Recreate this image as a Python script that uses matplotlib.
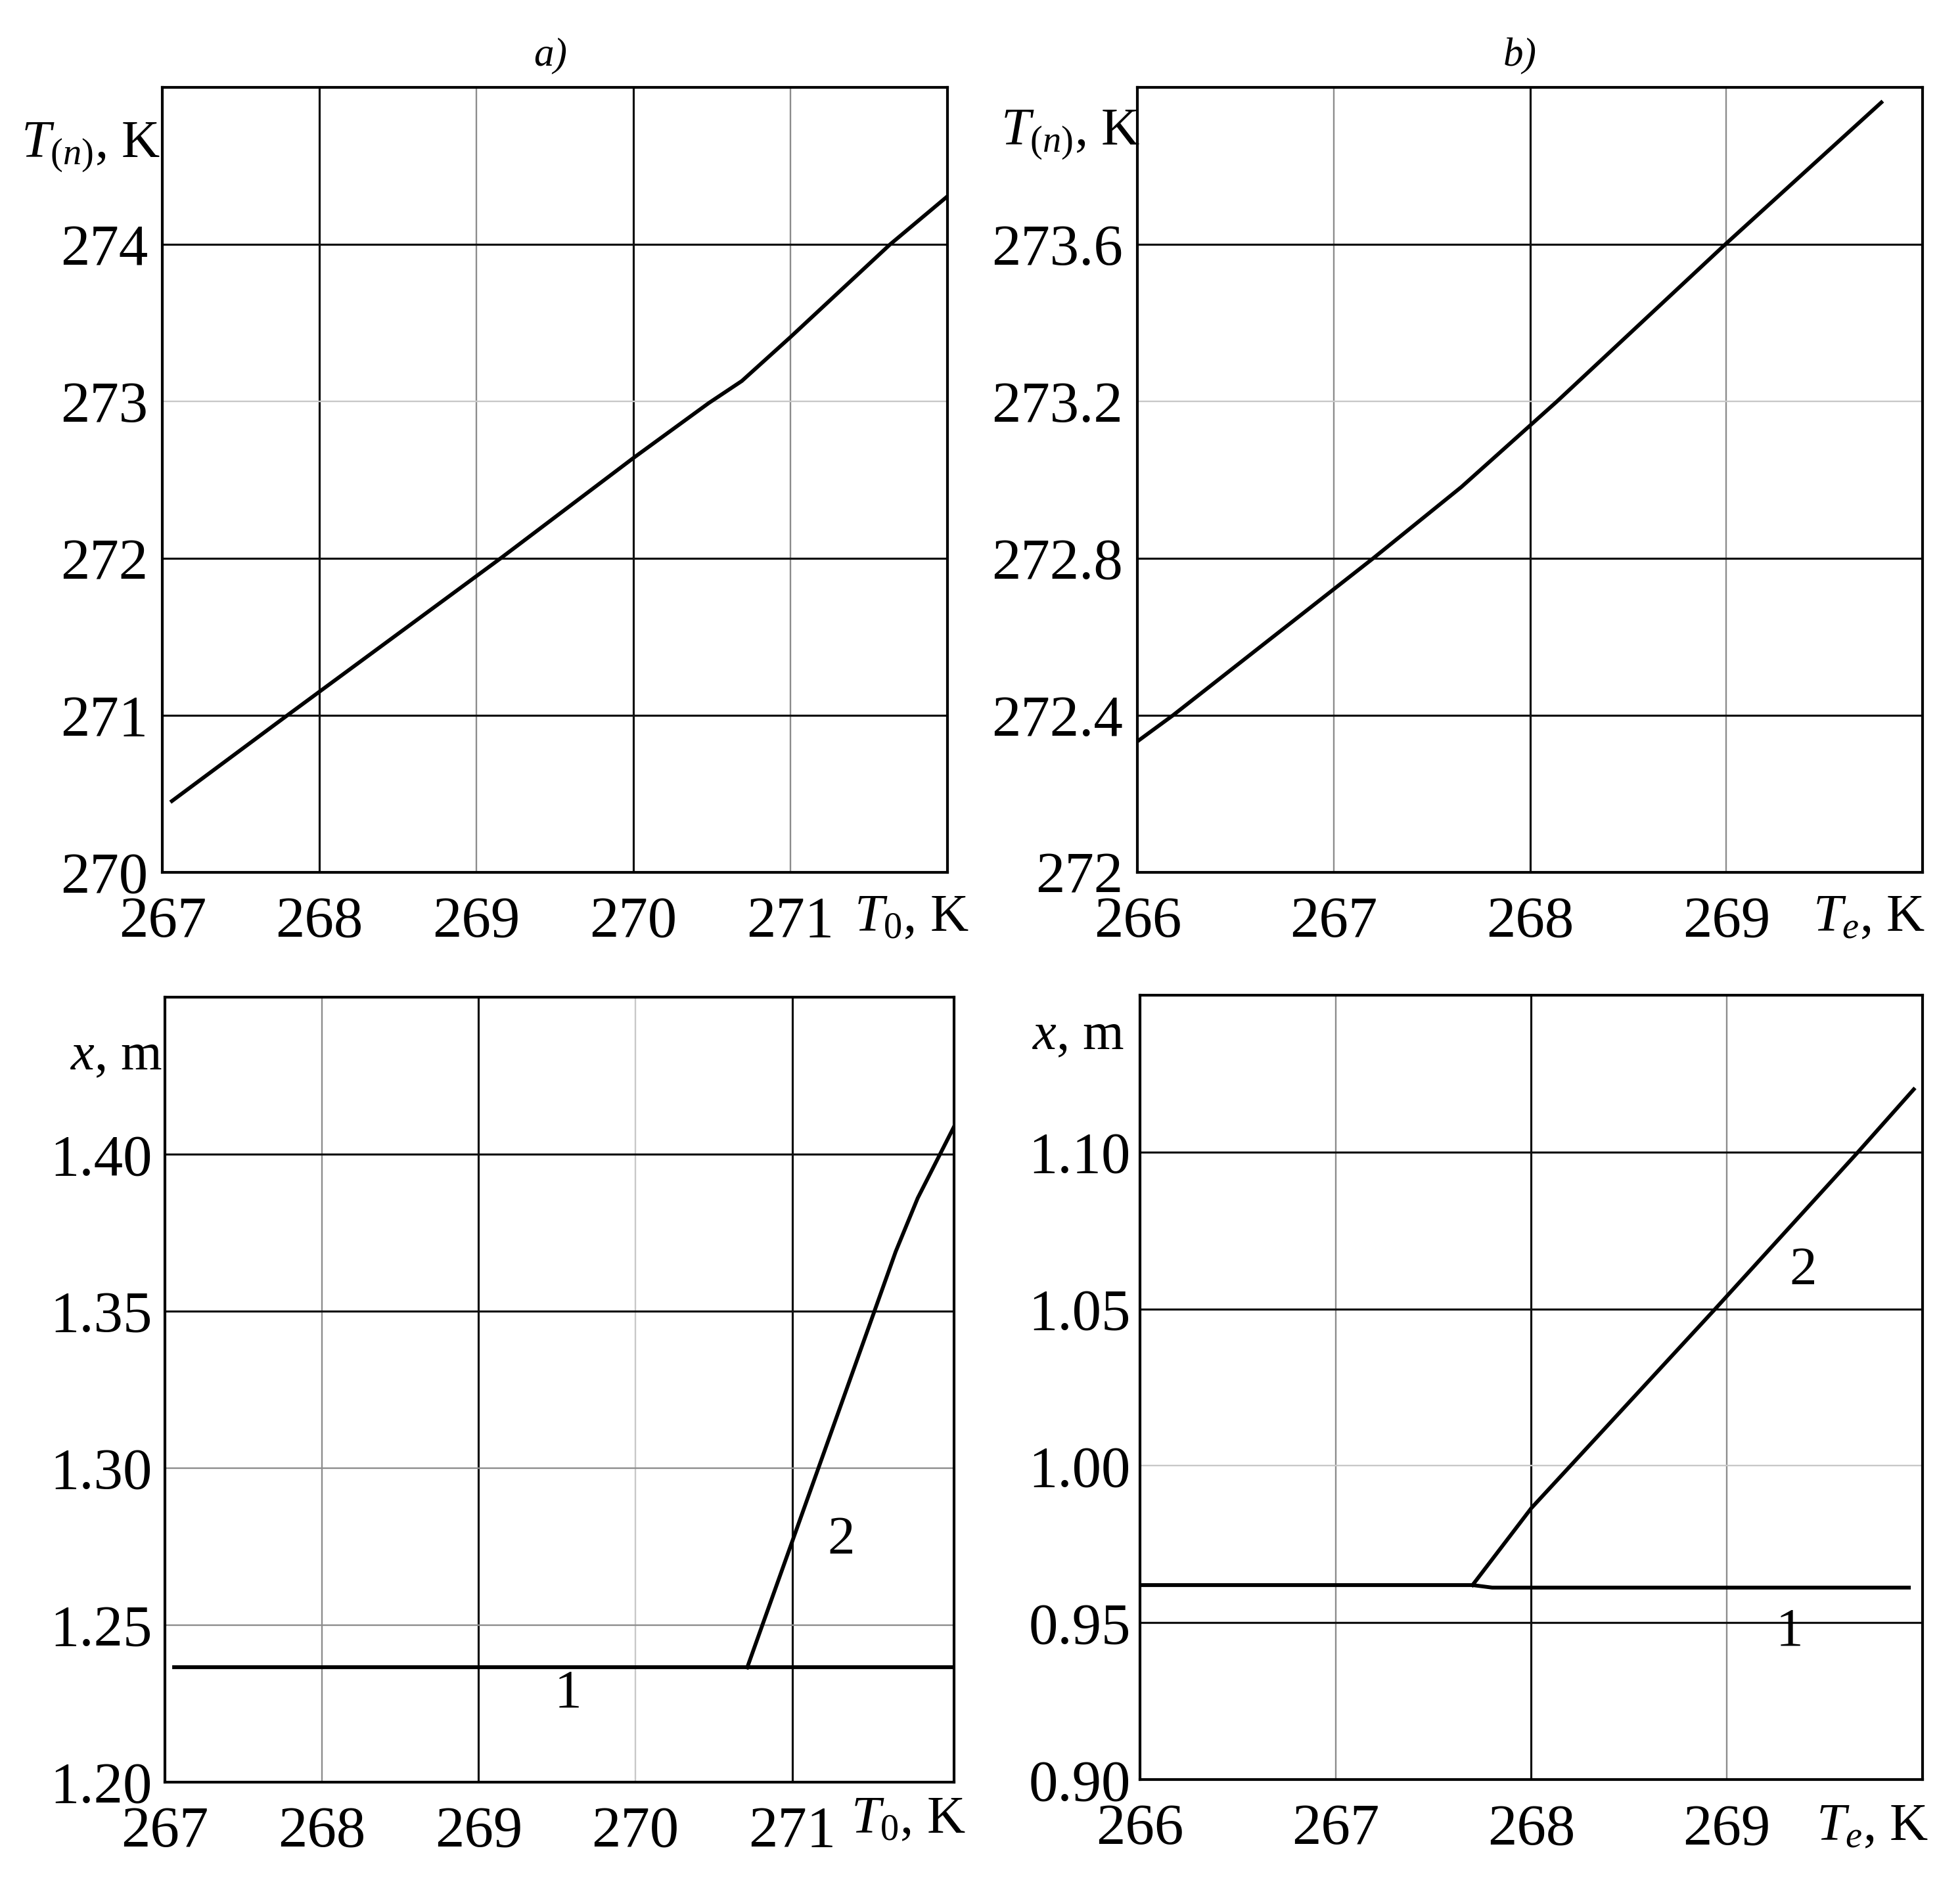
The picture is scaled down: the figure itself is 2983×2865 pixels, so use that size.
import matplotlib
matplotlib.use("Agg")
from matplotlib import pyplot as plt

plt.rcParams['font.family'] = ['Liberation Serif', 'DejaVu Serif']
plt.rcParams['mathtext.fontset'] = 'custom'
plt.rcParams['mathtext.rm'] = 'Liberation Serif'
plt.rcParams['mathtext.it'] = 'Liberation Serif:italic'

# panel a) top: T(n) vs T0
a_top_x = [267.06, 267.795, 269.153, 270.0, 270.48, 270.69, 271.0, 271.634, 272.0]
a_top_y = [270.454, 271.0, 272.0, 272.64, 272.99, 273.13, 273.41, 274.0, 274.307]
# panel b) top: T(n) vs Te
b_top_x = [266.0, 266.18, 267.2, 267.65, 268.137, 268.994, 269.79]
b_top_y = [272.334, 272.4, 272.8, 272.982, 273.2, 273.6, 273.962]
# panel a) bottom: x vs T0
a_bot_x1 = [267.06, 272.03]
a_bot_y1 = [1.2365, 1.2365]
a_bot_x2 = [270.713, 271.66, 271.8, 272.03]
a_bot_y2 = [1.2365, 1.369, 1.386, 1.4086]
# panel b) bottom: x vs Te
b_bot_x1 = [266.0, 267.70, 267.80, 269.93]
b_bot_y1 = [0.962, 0.962, 0.9612, 0.9612]
b_bot_x2 = [267.70, 268.0, 268.2, 268.94, 269.67, 269.955]
b_bot_y2 = [0.962, 0.9865, 1.0, 1.05, 1.10, 1.120]

a_xticks = [267, 268, 269, 270, 271]
b_xticks = [266, 267, 268, 269]
a_top_yticks = [270, 271, 272, 273, 274]
b_top_yticks = [272.0, 272.4, 272.8, 273.2, 273.6]
a_bot_yticks = [1.20, 1.25, 1.30, 1.35, 1.40]
b_bot_yticks = [0.90, 0.95, 1.00, 1.05, 1.10]

W, H = 2983, 2865
fig = plt.figure(figsize=(W / 200, H / 200), dpi=200)

BLK = ('#111111', 1.15)
GRY = ('#8c8c8c', 0.85)
LGT = ('#c8c8c8', 0.85)
LW = 2.1


def setup(ax, xlim, ylim, xt, yt, ylabels, vgrid, hgrid, pad_y):
    ax.set_xlim(*xlim)
    ax.set_ylim(*ylim)
    ax.set_xticks(xt)
    ax.set_yticks(yt)
    ax.set_xticklabels([str(v) for v in xt])
    ax.set_yticklabels(ylabels)
    ax.tick_params(length=0, labelsize=32, colors='black')
    ax.tick_params(axis='x', pad=13)
    ax.tick_params(axis='y', pad=pad_y)
    for v, st in zip(xt[1:], vgrid):
        ax.axvline(v, color=st[0], lw=st[1], zorder=1)
    for v, st in zip(yt[1:], hgrid):
        ax.axhline(v, color=st[0], lw=st[1], zorder=1)
    for s in ax.spines.values():
        s.set_linewidth(1.5)
        s.set_color('black')


# top-left
ax1 = fig.add_axes([0.0829, 0.5365, 0.4005, 0.417])
setup(ax1, (267, 272), (270, 275), a_xticks, a_top_yticks,
      [str(v) for v in a_top_yticks],
      [BLK, GRY, BLK, GRY], [BLK, BLK, LGT, BLK], 8)
ax1.plot(a_top_x, a_top_y, color='black', lw=LW, zorder=3)
ax1.text(0.494, 1.04, 'a)', transform=ax1.transAxes, ha='center', va='center',
         fontsize=22, style='italic')
ax1.text(-0.003, 0.912, r'$T_{(n)}$, K', transform=ax1.transAxes, ha='right',
         va='baseline', fontsize=29)
ax1.text(0.881, -0.075, r'$T_0$, K', transform=ax1.transAxes, ha='left',
         va='baseline', fontsize=29)

# top-right
ax2 = fig.add_axes([0.5804, 0.5365, 0.4005, 0.417])
setup(ax2, (266, 270), (272, 274), b_xticks, b_top_yticks,
      ['272'] + ['%.1f' % v for v in b_top_yticks[1:]],
      [GRY, BLK, GRY], [BLK, BLK, LGT, BLK], 8)
ax2.plot(b_top_x, b_top_y, color='black', lw=LW, zorder=3)
ax2.text(0.487, 1.04, 'b)', transform=ax2.transAxes, ha='center', va='center',
         fontsize=22, style='italic')
ax2.text(0.003, 0.928, r'$T_{(n)}$, K', transform=ax2.transAxes, ha='right',
         va='baseline', fontsize=29)
ax2.text(0.860, -0.075, r'$T_e$, K', transform=ax2.transAxes, ha='left',
         va='baseline', fontsize=29)

# bottom-left
ax3 = fig.add_axes([0.0842, 0.0531, 0.4024, 0.417])
setup(ax3, (267, 272.03), (1.20, 1.45), a_xticks, a_bot_yticks,
      ['%.2f' % v for v in a_bot_yticks],
      [GRY, BLK, LGT, BLK], [GRY, GRY, BLK, BLK], 7)
ax3.plot(a_bot_x1, a_bot_y1, color='black', lw=LW, zorder=3)
ax3.plot(a_bot_x2, a_bot_y2, color='black', lw=LW, zorder=3)
ax3.text(269.57, 1.228, '1', ha='center', va='center', fontsize=30)
ax3.text(271.31, 1.277, '2', ha='center', va='center', fontsize=30)
ax3.text(-0.003, 0.908, r'$x$, m', transform=ax3.transAxes, ha='right',
         va='baseline', fontsize=29)
ax3.text(0.870, -0.065, r'$T_0$, K', transform=ax3.transAxes, ha='left',
         va='baseline', fontsize=29)

# bottom-right
ax4 = fig.add_axes([0.5816, 0.0544, 0.3993, 0.4168])
setup(ax4, (266, 270), (0.90, 1.15), b_xticks, b_bot_yticks,
      ['%.2f' % v for v in b_bot_yticks],
      [GRY, BLK, GRY], [BLK, LGT, BLK, BLK], 5)
ax4.plot(b_bot_x1, b_bot_y1, color='black', lw=LW, zorder=3)
ax4.plot(b_bot_x2, b_bot_y2, color='black', lw=LW, zorder=3)
ax4.text(269.32, 0.947, '1', ha='center', va='center', fontsize=30)
ax4.text(269.39, 1.062, '2', ha='center', va='center', fontsize=30)
ax4.text(-0.0196, 0.931, r'$x$, m', transform=ax4.transAxes, ha='right',
         va='baseline', fontsize=29)
ax4.text(0.864, -0.077, r'$T_e$, K', transform=ax4.transAxes, ha='left',
         va='baseline', fontsize=29)

fig.savefig('out.png', dpi=200, facecolor='white')
